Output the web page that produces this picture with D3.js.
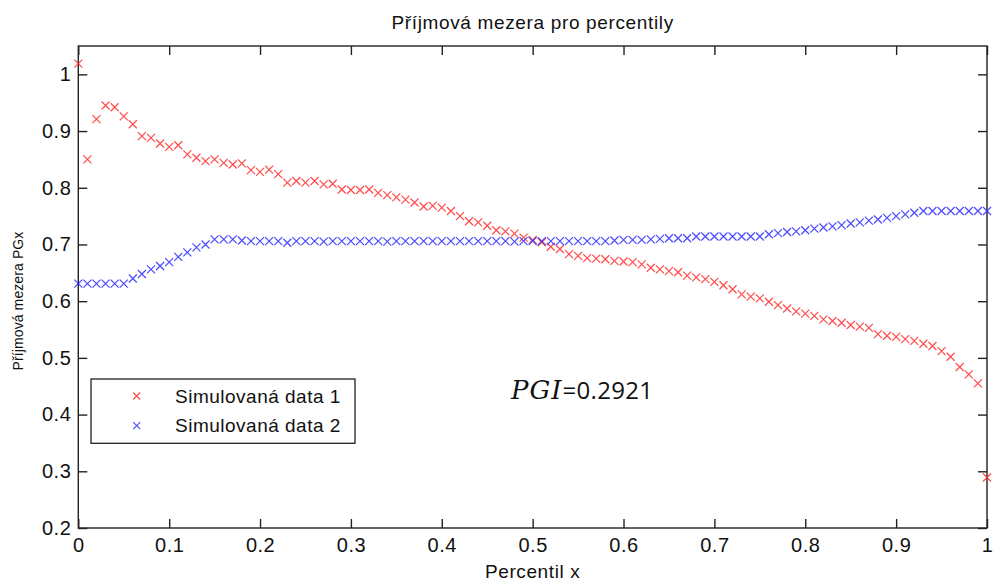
<!DOCTYPE html>
<html>
<head>
<meta charset="utf-8">
<script src="https://cdn.jsdelivr.net/npm/d3@7"></script>
<style>
  html, body { margin: 0; padding: 0; background: #fff; }
  svg { display: block; }
  text { font-family: "Liberation Sans", Arial, sans-serif; fill: #111; }
</style>
</head>
<body>
<svg id="chart" width="998" height="581"></svg>
<script>
// Percentile grid (x) and the two simulated income-gap series
const percentiles = [
  0.00,0.01,0.02,0.03,0.04,0.05,0.06,0.07,0.08,0.09,
  0.10,0.11,0.12,0.13,0.14,0.15,0.16,0.17,0.18,0.19,
  0.20,0.21,0.22,0.23,0.24,0.25,0.26,0.27,0.28,0.29,
  0.30,0.31,0.32,0.33,0.34,0.35,0.36,0.37,0.38,0.39,
  0.40,0.41,0.42,0.43,0.44,0.45,0.46,0.47,0.48,0.49,
  0.50,0.51,0.52,0.53,0.54,0.55,0.56,0.57,0.58,0.59,
  0.60,0.61,0.62,0.63,0.64,0.65,0.66,0.67,0.68,0.69,
  0.70,0.71,0.72,0.73,0.74,0.75,0.76,0.77,0.78,0.79,
  0.80,0.81,0.82,0.83,0.84,0.85,0.86,0.87,0.88,0.89,
  0.90,0.91,0.92,0.93,0.94,0.95,0.96,0.97,0.98,0.99,
  1.00
];

const simData1 = [
  1.019,0.850,0.921,0.945,0.942,0.926,0.912,0.891,0.888,0.878,
  0.872,0.875,0.859,0.853,0.847,0.850,0.844,0.841,0.843,0.831,
  0.828,0.832,0.824,0.809,0.812,0.809,0.812,0.806,0.807,0.797,
  0.796,0.796,0.797,0.791,0.787,0.783,0.779,0.774,0.767,0.768,
  0.765,0.759,0.750,0.741,0.739,0.733,0.725,0.723,0.719,0.712,
  0.708,0.704,0.696,0.692,0.683,0.680,0.676,0.675,0.674,0.671,
  0.670,0.669,0.665,0.659,0.656,0.653,0.651,0.645,0.642,0.639,
  0.634,0.628,0.621,0.612,0.608,0.605,0.599,0.593,0.587,0.582,
  0.578,0.574,0.568,0.565,0.562,0.558,0.555,0.553,0.542,0.539,
  0.537,0.533,0.530,0.525,0.521,0.512,0.502,0.484,0.471,0.455,
  0.289
];

const simData2 = [
  0.631,0.631,0.631,0.631,0.631,0.631,0.640,0.648,0.656,0.662,
  0.669,0.678,0.686,0.695,0.700,0.709,0.709,0.709,0.707,0.706,
  0.706,0.706,0.706,0.703,0.706,0.706,0.706,0.705,0.706,0.706,
  0.706,0.706,0.706,0.706,0.705,0.706,0.706,0.706,0.706,0.706,
  0.706,0.706,0.706,0.706,0.706,0.706,0.706,0.706,0.705,0.706,
  0.706,0.706,0.706,0.706,0.706,0.706,0.706,0.706,0.706,0.707,
  0.708,0.708,0.708,0.709,0.710,0.711,0.711,0.711,0.714,0.714,
  0.714,0.714,0.714,0.714,0.714,0.714,0.718,0.720,0.722,0.723,
  0.725,0.728,0.730,0.732,0.734,0.737,0.739,0.742,0.744,0.747,
  0.750,0.753,0.756,0.759,0.759,0.759,0.759,0.759,0.759,0.759,
  0.759
];

const seriesNames = ["Simulovaná data 1", "Simulovaná data 2"];
const seriesColors = ["#ff2a2a", "#2a2aff"];

const xTickValues = [0,0.1,0.2,0.3,0.4,0.5,0.6,0.7,0.8,0.9,1];
const xTickLabels = ["0","0.1","0.2","0.3","0.4","0.5","0.6","0.7","0.8","0.9","1"];
const yTickValues = [0.2,0.3,0.4,0.5,0.6,0.7,0.8,0.9,1];
const yTickLabels = ["0.2","0.3","0.4","0.5","0.6","0.7","0.8","0.9","1"];

const titleText = "Příjmová mezera pro percentily";
const xLabelText = "Percentil x";
const yLabelText = "Příjmová mezera PGx";
const pgiName = "PGI";
const pgiValue = "=0.2921";

// Layout
const plot = { left: 78.3, right: 987, top: 46, bottom: 528 };
const svg = d3.select("#chart");

const x = d3.scaleLinear().domain([0, 1]).range([plot.left, plot.right]);
const y = d3.scaleLinear().domain([0.2, 1.05]).range([plot.bottom, plot.top]);

svg.append("rect").attr("x", 0).attr("y", 0).attr("width", 998).attr("height", 581).attr("fill", "#fff");

const tickFont = g => g.selectAll("text")
  .style("font-size", "20px")
  .style("letter-spacing", "0.5px")
  .attr("fill", "#111");
const axisLine = g => {
  g.select(".domain").remove();
  g.selectAll(".tick line").attr("stroke", "#222").attr("stroke-width", 1.4);
};

// Bottom axis with labels, ticks pointing inward
svg.append("g")
  .attr("transform", `translate(0,${plot.bottom})`)
  .call(d3.axisBottom(x).tickValues(xTickValues)
    .tickFormat((d, i) => xTickLabels[i]).tickSize(-9).tickPadding(9.5))
  .call(axisLine).call(tickFont);

// Top axis (ticks only)
svg.append("g")
  .attr("transform", `translate(0,${plot.top})`)
  .call(d3.axisTop(x).tickValues(xTickValues).tickFormat("").tickSize(-9))
  .call(axisLine);

// Left axis with labels
svg.append("g")
  .attr("transform", `translate(${plot.left},0)`)
  .call(d3.axisLeft(y).tickValues(yTickValues)
    .tickFormat((d, i) => yTickLabels[i]).tickSize(-9).tickPadding(7))
  .call(axisLine).call(tickFont);

// Right axis (ticks only)
svg.append("g")
  .attr("transform", `translate(${plot.right},0)`)
  .call(d3.axisRight(y).tickValues(yTickValues).tickFormat("").tickSize(-9))
  .call(axisLine);

// Axes box
svg.append("rect")
  .attr("x", plot.left).attr("y", plot.top)
  .attr("width", plot.right - plot.left).attr("height", plot.bottom - plot.top)
  .attr("fill", "none").attr("stroke", "#222").attr("stroke-width", 1.4);

// Cross markers
const cross = s => `M${-s},${-s}L${s},${s}M${-s},${s}L${s},${-s}`;
[simData1, simData2].forEach((vals, si) => {
  svg.append("g")
    .selectAll("path")
    .data(vals)
    .join("path")
    .attr("transform", (d, i) => `translate(${x(percentiles[i])},${y(d)})`)
    .attr("d", cross(4))
    .attr("fill", "none")
    .attr("stroke", seriesColors[si])
    .attr("stroke-width", 1.2)
    .attr("stroke-opacity", 0.85);
});

// Title and axis labels
svg.append("text")
  .attr("x", (plot.left + plot.right) / 2).attr("y", 28.5)
  .attr("text-anchor", "middle")
  .style("font-size", "19px").style("letter-spacing", "0.65px")
  .text(titleText);

svg.append("text")
  .attr("x", (plot.left + plot.right) / 2).attr("y", 578)
  .attr("text-anchor", "middle")
  .style("font-size", "19px").style("letter-spacing", "0.6px")
  .text(xLabelText);

svg.append("text")
  .attr("transform", `translate(23,${(plot.top + plot.bottom) / 2 + 14}) rotate(-90)`)
  .attr("text-anchor", "middle")
  .style("font-size", "14px").style("letter-spacing", "0.1px")
  .text(yLabelText);

// Legend
const legend = svg.append("g");
legend.append("rect")
  .attr("x", 91).attr("y", 379).attr("width", 264).attr("height", 64.3)
  .attr("fill", "#fff").attr("stroke", "#222").attr("stroke-width", 1.3);
const rowY = [396, 425.7];
seriesNames.forEach((name, i) => {
  legend.append("path")
    .attr("transform", `translate(136.7,${rowY[i]})`)
    .attr("d", cross(3.5))
    .attr("fill", "none")
    .attr("stroke", seriesColors[i])
    .attr("stroke-width", 1.2)
    .attr("stroke-opacity", 0.85);
  legend.append("text")
    .attr("x", 175).attr("y", rowY[i]).attr("dy", "0.35em")
    .style("font-size", "19px").style("letter-spacing", "0.5px")
    .text(name);
});

// Index annotation
const pgi = svg.append("text").attr("x", 511).attr("y", 398.5);
pgi.append("tspan")
  .style("font-family", "'DejaVu Serif', 'Liberation Serif', serif")
  .style("font-style", "italic").style("font-size", "26px")
  .style("letter-spacing", "1px")
  .text(pgiName);
pgi.append("tspan")
  .style("font-family", "'Open Sans', sans-serif").style("font-size", "24px")
  .style("letter-spacing", "0.3px")
  .text(pgiValue);
</script>
</body>
</html>
